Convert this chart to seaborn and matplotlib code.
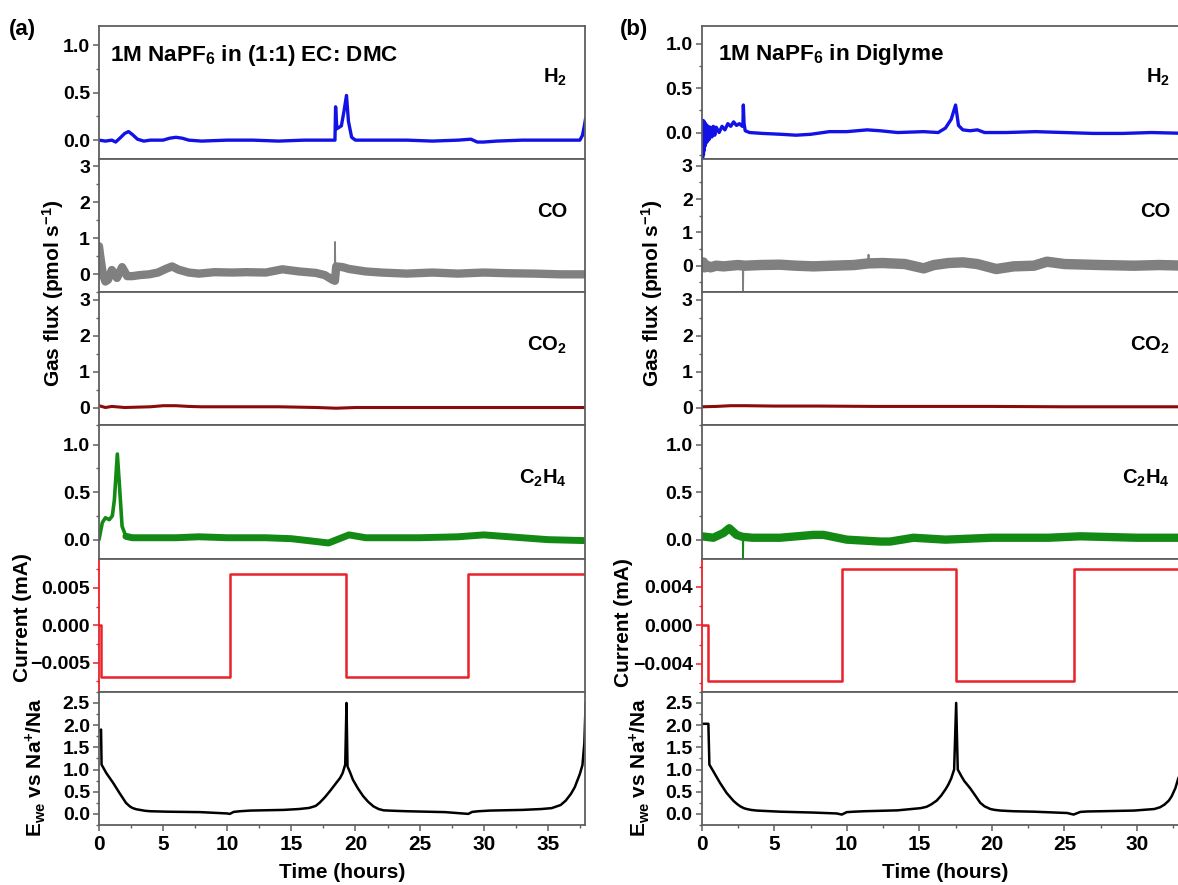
import matplotlib
matplotlib.use("Agg")
import matplotlib.pyplot as plt
import seaborn as sns
from matplotlib.ticker import MultipleLocator, FuncFormatter

# ---------------- data ----------------
# Panel (a): 1M NaPF6 in (1:1) EC:DMC
h2_a_t = [0, 0.5, 1.0, 1.3, 1.7, 2.0, 2.3, 2.6, 3.0, 3.5, 4, 5, 5.5, 6, 6.5, 7, 8, 10, 12, 14, 16, 18,
          18.4, 18.45, 18.55, 18.9, 19.1, 19.3, 19.45, 19.7, 20.0, 22, 24, 26, 28, 29, 29.5, 30, 31, 33,
          35, 37.5, 37.7, 37.85, 37.95]
h2_a_v = [0.0, -0.01, 0.0, -0.02, 0.03, 0.07, 0.09, 0.06, 0.01, -0.01, 0.0, 0.0, 0.02, 0.03, 0.02, 0.0,
          -0.01, 0.0, 0.0, -0.01, 0.0, 0.0, 0.0, 0.35, 0.12, 0.15, 0.3, 0.47, 0.2, 0.03, 0.0, 0.0, 0.0,
          -0.01, 0.0, 0.01, -0.02, -0.02, -0.01, 0.0, 0.0, 0.0, 0.05, 0.15, 0.23]

co_a_t = [0, 0.1, 0.3, 0.5, 0.7, 1.0, 1.4, 1.8, 2.2, 2.6, 3.2, 3.9, 4.6, 5.2, 5.7, 6.2, 7.0, 7.8, 9.0,
          10.4, 11.5, 13.0, 14.3, 15.6, 16.9, 17.6, 18.2, 18.4, 18.5, 19.0, 19.5, 20.8, 22, 24, 26, 28,
          30, 32, 34, 36, 37.9]
co_a_v = [0.78, 0.5, 0.0, -0.2, -0.15, 0.12, -0.1, 0.2, -0.05, -0.05, -0.02, 0.0, 0.05, 0.15, 0.22, 0.13,
          0.05, 0.02, 0.06, 0.05, 0.06, 0.05, 0.14, 0.08, 0.04, -0.02, -0.15, -0.18, 0.22, 0.2, 0.15, 0.08,
          0.05, 0.02, 0.05, 0.02, 0.05, 0.03, 0.02, 0.0, 0.0]
co_a_spike_t = [18.38, 18.4, 18.43]
co_a_spike_v = [-0.18, 0.9, 0.22]

co2_a_t = [0, 0.5, 1, 2, 3, 4, 5, 6, 7, 8, 10, 14, 17, 18.5, 20, 25, 30, 35, 37.9]
co2_a_v = [0.05, 0.0, 0.03, 0.0, 0.01, 0.02, 0.05, 0.05, 0.03, 0.02, 0.02, 0.02, 0.0, -0.02, 0.0, 0.0,
           0.0, 0.0, 0.0]

c2h4_a_peak_t = [0, 0.26, 0.5, 0.8, 1.04, 1.2, 1.43, 1.6, 1.8, 2.1]
c2h4_a_peak_v = [0.0, 0.18, 0.23, 0.21, 0.25, 0.42, 0.9, 0.56, 0.14, 0.035]
c2h4_a_t = [2.1, 2.6, 4, 6, 7.8, 10, 13, 15, 17.9, 19.5, 20.8, 23, 25, 28, 30, 33, 35, 37.9]
c2h4_a_v = [0.035, 0.02, 0.02, 0.02, 0.03, 0.02, 0.02, 0.01, -0.035, 0.05, 0.02, 0.02, 0.02, 0.03, 0.05,
            0.02, 0.0, -0.01]

cur_a_t = [0, 0.16, 10.2, 19.25, 28.8, 37.9]
cur_a_v = [0.0, -0.0069, 0.0069, -0.0069, 0.0069, 0.0069]

ewe_a_t = [0, 0.16, 0.2, 0.57, 1.1, 1.6, 2.1, 2.4, 2.6, 2.9, 3.2, 3.6, 4.0, 5.3, 7.9, 10.0, 10.2, 10.5,
           11.0, 11.8, 14.4, 15.6, 16.4, 16.9, 17.2, 17.6, 18.0, 18.4, 18.8, 19.0, 19.2, 19.3, 19.38,
           19.6, 19.8, 20.2, 20.6, 21.0, 21.4, 21.8, 22.2, 23, 24, 27, 28.8, 29.1, 29.6, 30.5, 33, 34.5,
           35.3, 36.0, 36.4, 36.8, 37.1, 37.3, 37.5, 37.7, 37.85, 37.95]
ewe_a_v = [1.86, 1.9, 1.11, 0.92, 0.7, 0.47, 0.25, 0.17, 0.135, 0.105, 0.09, 0.07, 0.06, 0.05, 0.04,
           0.01, 0.0, 0.045, 0.06, 0.075, 0.09, 0.11, 0.135, 0.18, 0.25, 0.37, 0.51, 0.66, 0.81, 0.92,
           1.11, 2.5, 1.07, 0.92, 0.77, 0.57, 0.4, 0.27, 0.17, 0.11, 0.08, 0.07, 0.06, 0.04, 0.0, 0.045,
           0.06, 0.075, 0.09, 0.11, 0.13, 0.2, 0.3, 0.45, 0.6, 0.75, 0.9, 1.1, 1.6, 2.5]

# Panel (b): 1M NaPF6 in Diglyme
h2_b_t = [0, 0.03, 0.06, 0.09, 0.12, 0.15, 0.18, 0.21, 0.24, 0.27, 0.3, 0.35, 0.4, 0.45, 0.5, 0.6, 0.7,
          0.8, 0.9, 1.0, 1.2, 1.4, 1.6, 1.8, 2.0, 2.2, 2.4, 2.6, 2.8, 2.84, 2.87, 2.92, 3.0, 3.3, 4.2,
          5.5, 6.5, 7.5, 8.8, 10, 11.4, 12.3, 13.5, 15.3, 16.3, 16.8, 17.2, 17.5, 17.7, 18.0, 18.5,
          19.0, 19.5, 21, 23, 25, 27, 29, 31, 33.5]
h2_b_v = [0.0, 0.14, -0.3, 0.12, -0.25, 0.13, -0.2, 0.1, -0.15, 0.1, -0.12, 0.08, -0.1, 0.07, -0.08,
          0.06, -0.05, 0.07, -0.03, 0.06, 0.0, 0.07, 0.03, 0.1, 0.07, 0.12, 0.08, 0.1, 0.07, 0.08, 0.31,
          0.1, 0.02, 0.0, -0.01, -0.02, -0.03, -0.02, 0.01, 0.01, 0.03, 0.02, 0.0, 0.01, 0.0, 0.05, 0.15,
          0.31, 0.08, 0.03, 0.02, 0.03, 0.0, 0.0, 0.01, 0.0, -0.01, -0.01, 0.0, -0.01]

co_b_t = [0, 0.1, 0.2, 0.35, 0.6, 1.0, 1.5, 2.0, 2.5, 3.0, 4.0, 5.4, 6.5, 7.7, 9.0, 10.5, 11.5, 12.5,
          14.0, 15.3, 16.0, 17.0, 18.0, 19.0, 20.3, 21.5, 22.9, 23.8, 25.0, 27.5, 29.8, 31.5, 33.5]
co_b_v = [0.05, 0.1, -0.05, 0.0, -0.05, 0.0, -0.02, 0.0, 0.02, 0.0, 0.02, 0.03, 0.0, -0.02, 0.0, 0.02,
          0.07, 0.08, 0.05, -0.08, 0.02, 0.08, 0.1, 0.05, -0.1, -0.02, 0.0, 0.12, 0.05, 0.02, 0.0, 0.02, 0.0]
co_b_spike_t = [2.83, 2.85, 2.87, 11.48, 11.5, 11.52]
co_b_spike_v = [0.0, -0.8, 0.0, 0.05, 0.33, 0.05]

co2_b_t = [0, 1, 2, 3, 5, 8, 12, 16, 20, 25, 30, 33.5]
co2_b_v = [0.02, 0.03, 0.05, 0.05, 0.04, 0.04, 0.03, 0.03, 0.03, 0.02, 0.02, 0.02]

c2h4_b_t = [0, 0.8, 1.5, 1.9, 2.4, 2.8, 3.5, 5.4, 7.7, 8.4, 10, 12.3, 13, 14.6, 16.8, 20, 23.9, 26.1,
            30, 33.5]
c2h4_b_v = [0.035, 0.02, 0.07, 0.12, 0.05, 0.03, 0.02, 0.02, 0.05, 0.05, 0.0, -0.02, -0.02, 0.02, 0.0,
            0.02, 0.02, 0.035, 0.02, 0.02]
c2h4_b_spike_t = [2.83, 2.85, 2.87]
c2h4_b_spike_v = [0.03, -0.19, 0.03]

cur_b_t = [0, 0.46, 9.66, 17.54, 25.63, 33.5]
cur_b_v = [0.0, -0.0058, 0.0058, -0.0058, 0.0058, 0.0058]

ewe_b_t = [0, 0.46, 0.53, 0.8, 1.26, 1.72, 2.2, 2.45, 2.66, 2.9, 3.1, 3.4, 3.8, 5.4, 7.7, 9.3, 9.66,
           10.0, 10.5, 11.2, 13.5, 15.1, 15.5, 15.8, 16.2, 16.5, 16.8, 17.0, 17.2, 17.4, 17.54, 17.65,
           17.9, 18.1, 18.5, 18.8, 19.2, 19.5, 19.9, 20.2, 20.6, 21.5, 22.9, 25.2, 25.63, 26.1, 26.6,
           27.5, 29.8, 31.2, 31.6, 31.9, 32.2, 32.4, 32.65, 32.85, 33.2]
ewe_b_v = [2.03, 2.03, 1.11, 0.96, 0.7, 0.47, 0.29, 0.22, 0.17, 0.13, 0.11, 0.09, 0.075, 0.05, 0.03,
           0.01, -0.015, 0.04, 0.05, 0.06, 0.08, 0.13, 0.16, 0.21, 0.3, 0.41, 0.55, 0.66, 0.8, 1.0, 2.5,
           1.0, 0.85, 0.74, 0.58, 0.44, 0.25, 0.17, 0.11, 0.09, 0.075, 0.06, 0.05, 0.02, -0.015, 0.045,
           0.055, 0.06, 0.075, 0.11, 0.15, 0.21, 0.3, 0.4, 0.58, 0.8, 1.05]

# ---------------- styling ----------------
sns.set_theme(style="ticks")
plt.rcParams["font.family"] = ["Liberation Sans", "DejaVu Sans"]
plt.rcParams["font.weight"] = "bold"
plt.rcParams["mathtext.fontset"] = "custom"
plt.rcParams["mathtext.rm"] = "Liberation Sans:bold"
plt.rcParams["mathtext.it"] = "Liberation Sans:bold"
plt.rcParams["mathtext.bf"] = "Liberation Sans:bold"
plt.rcParams["mathtext.default"] = "regular"

W, H = 1178, 885
fig = plt.figure(figsize=(W / 100, H / 100), dpi=100)

SPINE = "#5f5f5f"
C_H2, C_CO, C_CO2, C_C2H4 = "#1212e6", "#808080", "#8b0a0a", "#138a13"
C_CUR, C_EWE = "#e8222a", "#000000"
TICK_FS, LAB_FS = 14, 15

top, bot = 26.0, 825.0
rowh = (bot - top) / 6


def make_ax(x0, x1, row):
    y0 = top + row * rowh
    return fig.add_axes([x0 / W, 1 - (y0 + rowh) / H, (x1 - x0) / W, rowh / H])


def fmt_func(fmt):
    return FuncFormatter(lambda v, pos: (fmt % v).replace("-", "\u2212"))


def style(ax, ylim, major, minor, fmt, xmax, bottom_row=False, spine_left=SPINE):
    ax.set_xlim(0, xmax)
    ax.set_ylim(*ylim)
    ax.yaxis.set_major_locator(MultipleLocator(major))
    ax.yaxis.set_minor_locator(MultipleLocator(minor))
    ax.yaxis.set_major_formatter(fmt_func(fmt))
    ax.xaxis.set_major_locator(MultipleLocator(5))
    ax.xaxis.set_minor_locator(MultipleLocator(2.5))
    for s in ax.spines.values():
        s.set_color(SPINE)
        s.set_linewidth(1.3)
    ax.spines["left"].set_color(spine_left)
    ax.tick_params(axis="y", which="major", direction="out", length=4.5, width=1.1,
                   color=spine_left, labelsize=TICK_FS, pad=2, labelcolor="black")
    ax.tick_params(axis="y", which="minor", direction="out", length=2.5, width=1.0, color=spine_left)
    ax.tick_params(axis="y", right=False, which="both")
    if bottom_row:
        ax.tick_params(axis="x", which="major", direction="out", length=4.5, width=1.1, color=SPINE,
                       labelsize=TICK_FS + 1, pad=3, labelcolor="black")
        ax.tick_params(axis="x", which="minor", direction="out", length=2.5, width=1.0, color=SPINE)
    else:
        ax.tick_params(axis="x", which="both", bottom=False, labelbottom=False)
    for lab in ax.get_xticklabels() + ax.get_yticklabels():
        lab.set_fontweight("bold")
    ax.set_xlabel("")
    ax.set_ylabel("")


def line(ax, t, v, color, lw, **kw):
    sns.lineplot(x=t, y=v, ax=ax, color=color, linewidth=lw, estimator=None, sort=False,
                 legend=False, **kw)


panels = [
    dict(x0=99, x1=585, xmax=37.9,
         h2=(h2_a_t, h2_a_v), co=(co_a_t, co_a_v), co_sp=(co_a_spike_t, co_a_spike_v),
         co2=(co2_a_t, co2_a_v), c2h4=(c2h4_a_t, c2h4_a_v), c2h4_pk=(c2h4_a_peak_t, c2h4_a_peak_v),
         c2h4_sp=None, cur=(cur_a_t, cur_a_v), ewe=(ewe_a_t, ewe_a_v),
         h2lim=(-0.2, 1.2), colim=(-0.5, 3.2), curlim=(-0.0089, 0.0089), curmaj=0.005, curmin=0.0025,
         colw=6.0, c2lw=5.0),
    dict(x0=701.7, x1=1187.7, xmax=33.5,
         h2=(h2_b_t, h2_b_v), co=(co_b_t, co_b_v), co_sp=(co_b_spike_t, co_b_spike_v),
         co2=(co2_b_t, co2_b_v), c2h4=(c2h4_b_t, c2h4_b_v), c2h4_pk=None,
         c2h4_sp=(c2h4_b_spike_t, c2h4_b_spike_v), cur=(cur_b_t, cur_b_v), ewe=(ewe_b_t, ewe_b_v),
         h2lim=(-0.3, 1.2), colim=(-0.8, 3.2), curlim=(-0.0069, 0.0069), curmaj=0.004, curmin=0.002,
         colw=7.5, c2lw=6.0),
]

for p in panels:
    xmax = p["xmax"]
    axs = [make_ax(p["x0"], p["x1"], r) for r in range(6)]

    line(axs[0], *p["h2"], C_H2, 2.4)
    style(axs[0], p["h2lim"], 0.5, 0.25, "%.1f", xmax)

    line(axs[1], *p["co"], C_CO, p["colw"])
    line(axs[1], *p["co_sp"], C_CO, 1.3)
    style(axs[1], p["colim"], 1, 0.5, "%d", xmax)

    line(axs[2], *p["co2"], C_CO2, 2.2)
    style(axs[2], (-0.5, 3.2), 1, 0.5, "%d", xmax)

    line(axs[3], *p["c2h4"], C_C2H4, p["c2lw"])
    if p["c2h4_pk"] is not None:
        line(axs[3], *p["c2h4_pk"], C_C2H4, 2.6)
    if p["c2h4_sp"] is not None:
        line(axs[3], *p["c2h4_sp"], C_C2H4, 1.3)
    style(axs[3], (-0.2, 1.2), 0.5, 0.25, "%.1f", xmax)

    line(axs[4], *p["cur"], C_CUR, 1.8, drawstyle="steps-post")
    style(axs[4], p["curlim"], p["curmaj"], p["curmin"], "%.3f", xmax, spine_left=C_CUR)

    line(axs[5], *p["ewe"], C_EWE, 1.8)
    style(axs[5], (-0.25, 2.75), 0.5, 0.25, "%.1f", xmax, bottom_row=True)

# ---------------- texts ----------------
def ftext(x, y, s, **kw):
    fig.text(x / W, 1 - y / H, s, fontweight="bold", color="black", **kw)

ftext(22, 29, "(a)", fontsize=16, ha="center", va="center")
ftext(634, 29, "(b)", fontsize=16, ha="center", va="center")
ftext(110, 61, "1M NaPF$_6$ in (1:1) EC: DMC", fontsize=16.2, ha="left", va="baseline")
ftext(718, 60, "1M NaPF$_6$ in Diglyme", fontsize=16.2, ha="left", va="baseline")

gas_labels = ["H$_2$", "CO", "CO$_2$", "C$_2$H$_4$"]
gas_baselines = [83, 217, 351, 484]
for xr in (567, 1170):
    for lab, yb in zip(gas_labels, gas_baselines):
        ftext(xr, yb, lab, fontsize=14.5, ha="right", va="baseline")

for xc, yc, s in [(53, 293, "Gas flux (pmol s$^{-1}$)"), (652, 293, "Gas flux (pmol s$^{-1}$)"),
                  (23, 618, "Current (mA)"), (623, 623, "Current (mA)"),
                  (36, 767, "E$_{we}$ vs Na$^{+}$/Na"), (640, 767, "E$_{we}$ vs Na$^{+}$/Na")]:
    ftext(xc, yc, s, fontsize=LAB_FS, rotation=90, ha="center", va="center")

ftext(342, 873, "Time (hours)", fontsize=LAB_FS, ha="center", va="center")
ftext(945, 873, "Time (hours)", fontsize=LAB_FS, ha="center", va="center")

fig.savefig("out.png", dpi=100)
